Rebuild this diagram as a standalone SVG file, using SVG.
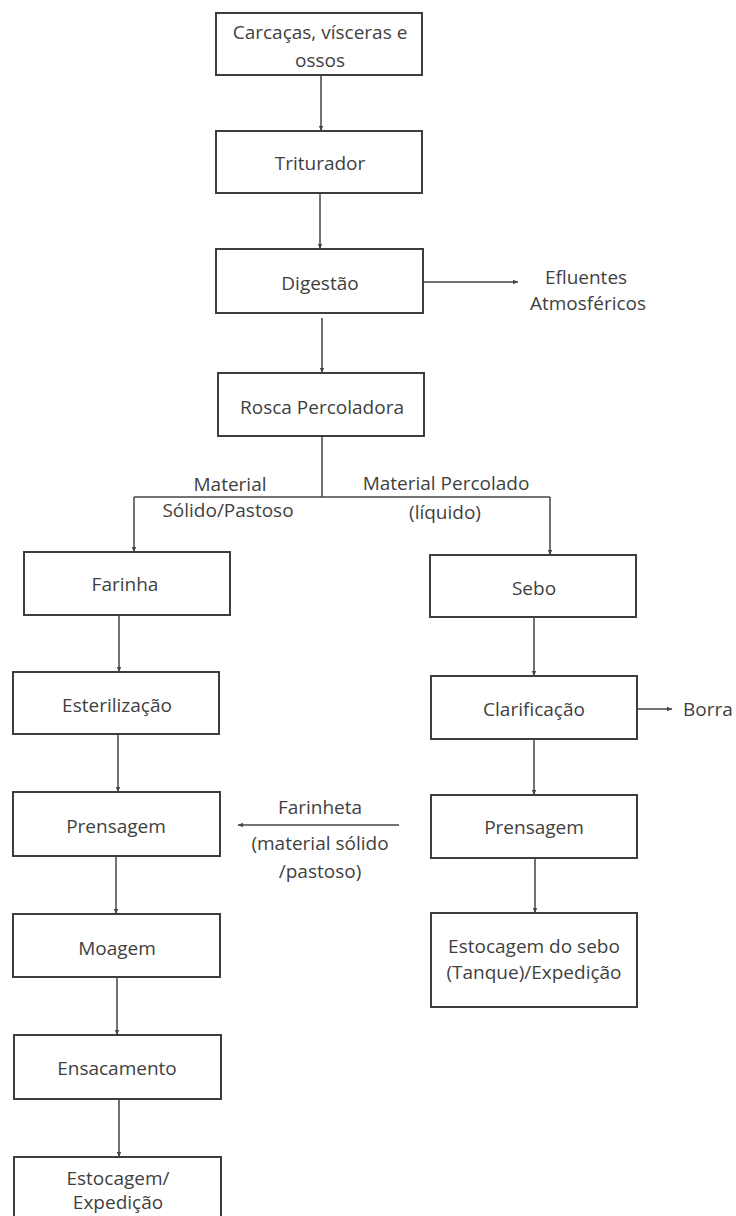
<svg xmlns="http://www.w3.org/2000/svg" width="736" height="1216" viewBox="0 0 736 1216">
<style>
.box{fill:#fff;stroke:#3d3d3d;stroke-width:2}
.t{font-family:"Open Sans","Noto Sans",sans-serif;font-size:19px;fill:#3f3f3f;text-anchor:middle;dominant-baseline:central}
.ts{text-anchor:start}
.c{fill:none;stroke:#444;stroke-width:1.5}
</style>
<defs>
<marker id="ah" markerUnits="userSpaceOnUse" markerWidth="6" markerHeight="6" refX="5" refY="3" orient="auto">
<path d="M0,0.8 L5,3 L0,5.2 z" fill="#444"/>
</marker>
</defs>
<rect width="736" height="1216" fill="#fff"/>
<g id="connectors">
<line class="c" x1="321" y1="75" x2="321" y2="131" marker-end="url(#ah)"/>
<line class="c" x1="320" y1="193" x2="320" y2="249" marker-end="url(#ah)"/>
<line class="c" x1="423" y1="282" x2="518" y2="282" marker-end="url(#ah)"/>
<line class="c" x1="322" y1="318" x2="322" y2="373" marker-end="url(#ah)"/>
<path class="c" d="M322,436 L322,497"/>
<path class="c" d="M134,497 L550,497"/>
<line class="c" x1="134" y1="497" x2="134" y2="552" marker-end="url(#ah)"/>
<line class="c" x1="550" y1="497" x2="550" y2="555" marker-end="url(#ah)"/>
<line class="c" x1="119" y1="615" x2="119" y2="672" marker-end="url(#ah)"/>
<line class="c" x1="118" y1="734" x2="118" y2="792" marker-end="url(#ah)"/>
<line class="c" x1="116" y1="856" x2="116" y2="914" marker-end="url(#ah)"/>
<line class="c" x1="117" y1="977" x2="117" y2="1035" marker-end="url(#ah)"/>
<line class="c" x1="119" y1="1099" x2="119" y2="1157" marker-end="url(#ah)"/>
<line class="c" x1="534" y1="617" x2="534" y2="676" marker-end="url(#ah)"/>
<line class="c" x1="637" y1="709" x2="672" y2="709" marker-end="url(#ah)"/>
<line class="c" x1="534" y1="739" x2="534" y2="795" marker-end="url(#ah)"/>
<line class="c" x1="535" y1="858" x2="535" y2="913" marker-end="url(#ah)"/>
<line class="c" x1="399" y1="825" x2="238" y2="825" marker-end="url(#ah)"/>
</g>
<g id="labels">
<text class="t" x="586" y="277">Efluentes</text>
<text class="t" x="588" y="303">Atmosféricos</text>
<text class="t ts" x="683" y="709">Borra</text>
<text class="t" x="230" y="484">Material</text>
<text class="t" x="228" y="510">Sólido/Pastoso</text>
<text class="t" x="446" y="483">Material Percolado</text>
<text class="t" x="445" y="512">(líquido)</text>
<text class="t" x="320" y="807">Farinheta</text>
<text class="t" x="320" y="843">(material sólido</text>
<text class="t" x="320" y="871">/pastoso)</text>
</g>
<g id="n-carcacas"><rect class="box" x="216" y="13" width="206" height="62"/><text class="t" x="320" y="32">Carcaças, vísceras e</text><text class="t" x="320" y="60">ossos</text></g>
<g id="n-triturador"><rect class="box" x="216" y="131" width="206" height="62"/><text class="t" x="320" y="163">Triturador</text></g>
<g id="n-digestao"><rect class="box" x="216" y="249" width="207" height="64"/><text class="t" x="320" y="283">Digestão</text></g>
<g id="n-rosca"><rect class="box" x="218" y="373" width="206" height="63"/><text class="t" x="322" y="407">Rosca Percoladora</text></g>
<g id="n-farinha"><rect class="box" x="24" y="552" width="206" height="63"/><text class="t" x="125" y="584">Farinha</text></g>
<g id="n-esterilizacao"><rect class="box" x="13" y="672" width="206" height="62"/><text class="t" x="117" y="705">Esterilização</text></g>
<g id="n-prensagem-l"><rect class="box" x="13" y="792" width="207" height="64"/><text class="t" x="116" y="826">Prensagem</text></g>
<g id="n-moagem"><rect class="box" x="13" y="914" width="207" height="63"/><text class="t" x="117" y="948">Moagem</text></g>
<g id="n-ensacamento"><rect class="box" x="14" y="1035" width="207" height="64"/><text class="t" x="117" y="1068">Ensacamento</text></g>
<g id="n-estocagem"><rect class="box" x="14" y="1157" width="207" height="72"/><text class="t" x="118" y="1178">Estocagem/</text><text class="t" x="118" y="1202">Expedição</text></g>
<g id="n-sebo"><rect class="box" x="430" y="555" width="206" height="62"/><text class="t" x="534" y="588">Sebo</text></g>
<g id="n-clarificacao"><rect class="box" x="431" y="676" width="206" height="63"/><text class="t" x="534" y="709">Clarificação</text></g>
<g id="n-prensagem-r"><rect class="box" x="431" y="795" width="206" height="63"/><text class="t" x="534" y="827">Prensagem</text></g>
<g id="n-estocagem-sebo"><rect class="box" x="431" y="913" width="206" height="94"/><text class="t" x="534" y="946">Estocagem do sebo</text><text class="t" x="534" y="972">(Tanque)/Expedição</text></g>
</svg>
